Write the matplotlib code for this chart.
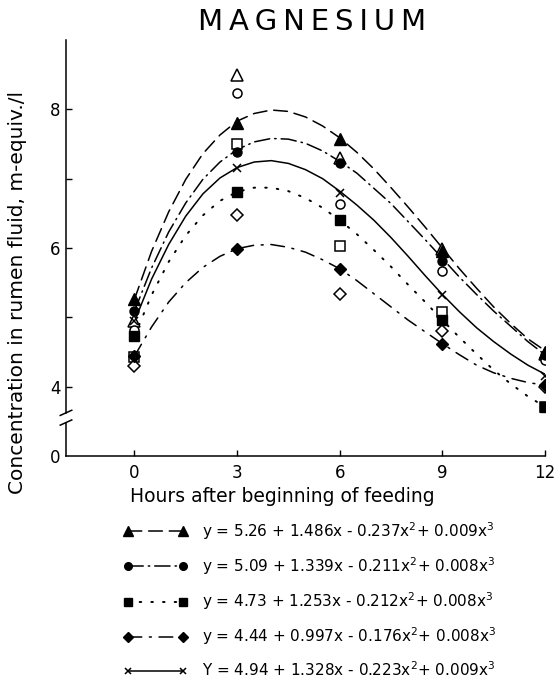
import numpy as np
import matplotlib
matplotlib.use("Agg")
import matplotlib.pyplot as plt
from matplotlib.lines import Line2D
import matplotlib.transforms as mtransforms

plt.rcParams['font.family'] = 'DejaVu Sans'

# sampling times (h) for the plotted points
hours = [0, 3, 6, 9, 12]

# filled markers (fitted values) and open markers (observed)
tri_fill = [5.26, 7.81, 7.57, 5.95, 4.50]
tri_open = [4.95, 8.49, 7.30, 5.98, 4.47]
circ_fill = [5.09, 7.38, 7.23, 5.81, 4.45]
circ_open = [4.82, 8.23, 6.64, 5.67, 4.38]
sq_fill = [4.73, 6.81, 6.40, 4.96, 3.71]
sq_open = [4.43, 7.50, 6.03, 5.07, 3.70]
dia_fill = [4.44, 5.99, 5.70, 4.62, 4.03]
dia_open = [4.30, 6.48, 5.34, 4.80, 4.00]
cross = [4.94, 7.16, 6.80, 5.32, 4.16]

# regression curves every half hour
curve_hours = [0, 0.5, 1, 1.5, 2, 2.5, 3, 3.5, 4, 4.5, 5, 5.5, 6,
               6.5, 7, 7.5, 8, 8.5, 9, 9.5, 10, 10.5, 11, 11.5, 12]
curve_tri = [5.26, 5.95, 6.52, 6.99, 7.36, 7.63, 7.83, 7.94, 7.99, 7.97, 7.89, 7.76, 7.59,
             7.38, 7.14, 6.87, 6.59, 6.30, 6.00, 5.70, 5.42, 5.15, 4.91, 4.69, 4.52]
curve_circ = [5.09, 5.71, 6.23, 6.65, 6.99, 7.24, 7.42, 7.53, 7.58, 7.57, 7.51, 7.40, 7.25,
              7.08, 6.86, 6.64, 6.38, 6.12, 5.85, 5.58, 5.33, 5.09, 4.87, 4.65, 4.46]
curve_sq = [4.73, 5.32, 5.80, 6.18, 6.47, 6.68, 6.81, 6.87, 6.87, 6.82, 6.72, 6.58, 6.40,
            6.20, 5.97, 5.73, 5.47, 5.22, 4.96, 4.71, 4.47, 4.24, 4.04, 3.86, 3.71]
curve_dia = [4.44, 4.86, 5.22, 5.50, 5.72, 5.88, 5.99, 6.04, 6.05, 6.01, 5.94, 5.83, 5.70,
             5.53, 5.34, 5.15, 4.96, 4.79, 4.62, 4.46, 4.31, 4.20, 4.12, 4.06, 4.02]
curve_x = [4.94, 5.55, 6.05, 6.46, 6.78, 7.01, 7.16, 7.24, 7.26, 7.22, 7.13, 7.00, 6.82,
           6.62, 6.40, 6.15, 5.88, 5.60, 5.33, 5.08, 4.85, 4.65, 4.47, 4.31, 4.18]

equations = [
    r"y = 5.26 + 1.486x - 0.237x$^2$+ 0.009x$^3$",
    r"y = 5.09 + 1.339x - 0.211x$^2$+ 0.008x$^3$",
    r"y = 4.73 + 1.253x - 0.212x$^2$+ 0.008x$^3$",
    r"y = 4.44 + 0.997x - 0.176x$^2$+ 0.008x$^3$",
    r"Y = 4.94 + 1.328x - 0.223x$^2$+ 0.009x$^3$",
]

ytick_vals = [3.0, 4, 6, 8]
ytick_labels = ['0', '4', '6', '8']
xtick_vals = [0, 3, 6, 9, 12]

lw = 1.1
styles = [
    dict(ls=(0, (9, 4.5)), marker='^', ms=8, lw=lw),
    dict(ls=(0, (10, 3.3, 0.9, 3.3)), marker='o', ms=6.5, lw=lw),
    dict(ls=(0, (0.8, 5.2)), marker='s', ms=6.5, lw=1.4),
    dict(ls=(0, (9, 5, 1.3, 5)), marker='D', ms=6, lw=lw),
    dict(ls='-', marker='x', ms=6, lw=lw),
]

fig = plt.figure(figsize=(5.56, 6.83), dpi=100)
ax = fig.add_axes([66 / 556, (683 - 456) / 683, (545 - 66) / 556, (456 - 40) / 683])

curves = [curve_tri, curve_circ, curve_sq, curve_dia, curve_x]
for c, st in zip(curves, styles):
    ax.plot(curve_hours, c, color='black', lw=st['lw'], ls=st['ls'],
            dash_capstyle='round', zorder=2)

fills = [tri_fill, circ_fill, sq_fill, dia_fill]
opens = [tri_open, circ_open, sq_open, dia_open]
for f, o, st in zip(fills, opens, styles[:4]):
    ax.plot(hours, o, ls='none', marker=st['marker'], ms=st['ms'],
            mfc='white', mec='black', mew=1.1, zorder=3)
    ax.plot(hours, f, ls='none', marker=st['marker'], ms=st['ms'],
            mfc='black', mec='black', mew=1.0, zorder=4)
ax.plot(hours, cross, ls='none', marker='x', ms=6, mec='black', mew=1.1, zorder=4)

ax.set_xlim(-2, 12)
ax.set_ylim(3.0, 9.0)
ax.set_xticks(xtick_vals)
ax.set_xticklabels([str(v) for v in xtick_vals])
ax.set_yticks(ytick_vals)
ax.set_yticklabels(ytick_labels)
ax.set_yticks([5, 7], minor=True)
ax.tick_params(axis='both', direction='in', length=4, width=1, labelsize=12)
ax.tick_params(axis='y', which='minor', direction='in', length=4, width=1)
ax.tick_params(axis='x', pad=6)
ax.tick_params(axis='y', pad=4)
ax.yaxis.get_major_ticks()[0].tick1line.set_visible(False)

for s in ['top', 'right']:
    ax.spines[s].set_visible(False)
ax.spines['left'].set_linewidth(1.1)
ax.spines['bottom'].set_linewidth(1.1)

# broken y axis between 0 and 4
ax.spines['left'].set_bounds(3.62, 9.0)
trans = mtransforms.blended_transform_factory(ax.transAxes, ax.transData)
ax.plot([0, 0], [3.0, 3.48], color='black', lw=1.1, transform=trans, clip_on=False)
ax.plot([-0.012, 0.012], [3.585, 3.66], color='black', lw=1.1, transform=trans, clip_on=False)
ax.plot([-0.012, 0.012], [3.445, 3.52], color='black', lw=1.1, transform=trans, clip_on=False)

fig.text(312 / 556, 1 - 22 / 683, "\u2009".join("MAGNESIUM"), ha='center', va='center',
         fontsize=21)
fig.text(282 / 556, 1 - 497 / 683, "Hours after beginning of feeding",
         ha='center', va='center', fontsize=13.5)
fig.text(18 / 556, 1 - 293 / 683, "Concentration in rumen fluid, m-equiv./l",
         ha='center', va='center', rotation=90, fontsize=14.5)

handles = []
for st in styles:
    if st['marker'] == 'x':
        h = Line2D([], [], color='black', lw=lw, ls='-', marker='x', ms=5, mew=1.1)
    else:
        h = Line2D([], [], color='black', lw=st['lw'], ls=st['ls'], dash_capstyle='round',
                   marker=st['marker'], ms=st['ms'] - 1, mfc='black', mec='black')
    handles.append(h)
fig.legend(handles, equations, loc='upper left', bbox_to_anchor=(123 / 556, 1 - 520 / 683),
           frameon=False, fontsize=11, numpoints=2, handlelength=4.2,
           handletextpad=1.0, labelspacing=0.88, borderaxespad=0, borderpad=0)

fig.savefig("out.png", dpi=100)
